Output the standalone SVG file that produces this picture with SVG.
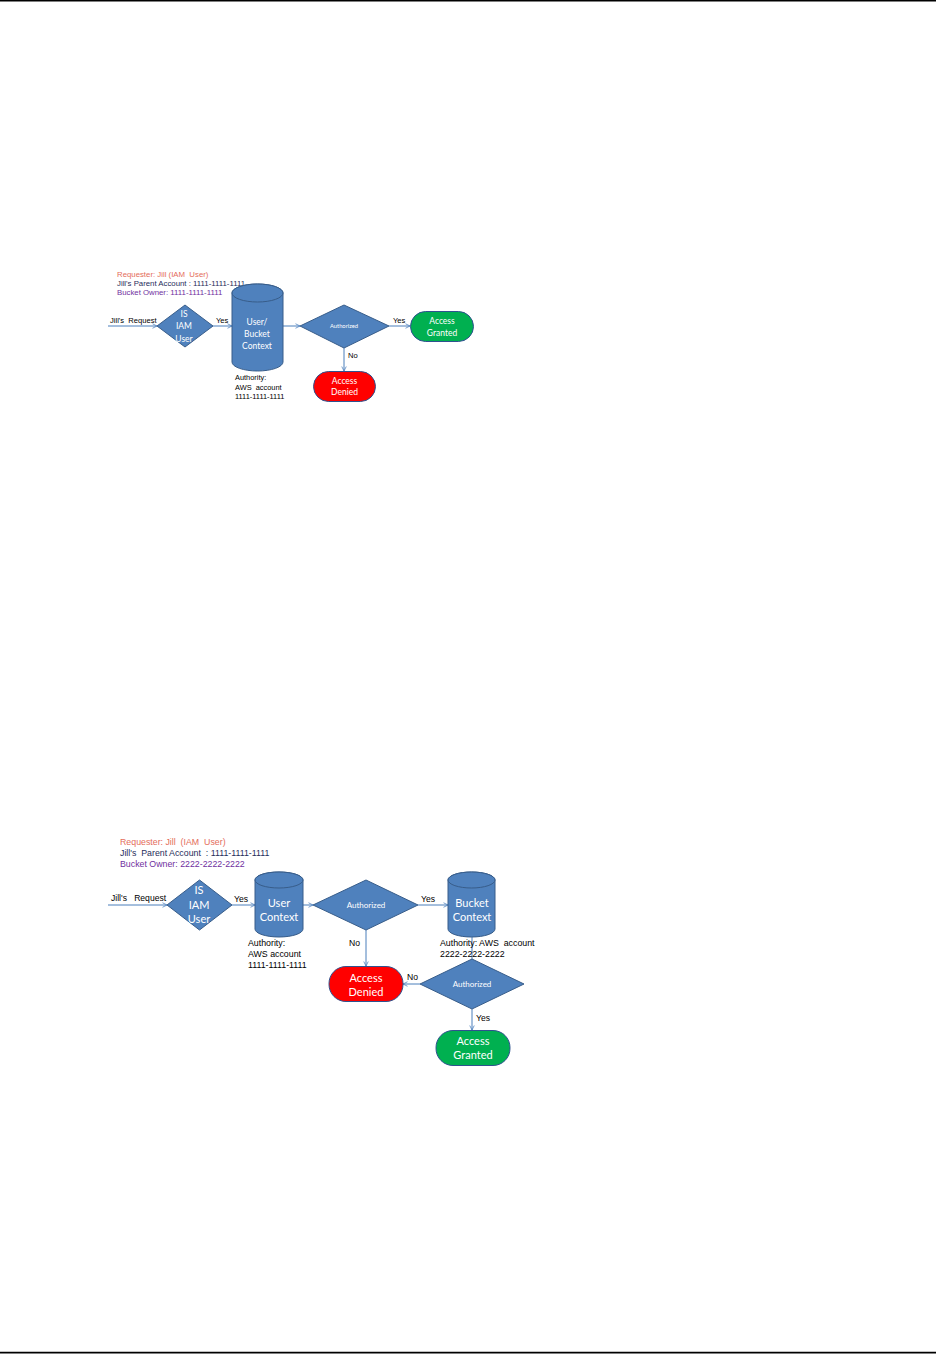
<svg xmlns="http://www.w3.org/2000/svg" width="936" height="1354" viewBox="0 0 936 1354">
<style>
.shape{fill:#4f81bd;stroke:#385d8a;stroke-width:1}
.green{fill:#00b050;stroke:#2f528f;stroke-width:1}
.red{fill:#ff0000;stroke:#2f528f;stroke-width:1}
.wl{font-family:Lato,"Open Sans",sans-serif;fill:#ffffff;text-anchor:middle}
.bl{font-family:"Liberation Sans",Arial,sans-serif;fill:#000000;white-space:pre}
.conn{stroke:#4a7ebb;stroke-width:1;fill:none;marker-end:url(#arr)}
.req{fill:#e46c5a}
.acc{fill:#1f2d5a}
.own{fill:#7030a0}
</style>
<defs>
<marker id="arr" viewBox="0 0 8 8" refX="7" refY="4" markerWidth="6" markerHeight="6" orient="auto" markerUnits="userSpaceOnUse">
<path d="M1,1 L7,4 L1,7" fill="none" stroke="#4a7ebb" stroke-width="1"/>
</marker>
</defs>
<rect x="0" y="0" width="936" height="1354" fill="#ffffff"/>
<line x1="0" y1="0.8" x2="936" y2="0.8" stroke="#000" stroke-width="1.6"/>
<line x1="0" y1="1352.6" x2="936" y2="1352.6" stroke="#000" stroke-width="1.6"/>

<!-- Diagram 1 -->
<g id="d1-info" class="bl" font-size="7.8">
<text x="117" y="277" class="req" xml:space="preserve">Requester: Jill (IAM  User)</text>
<text x="117" y="286" class="acc" xml:space="preserve">Jill's Parent Account : 1111-1111-1111</text>
<text x="117" y="295" class="own" xml:space="preserve">Bucket Owner: 1111-1111-1111</text>
</g>
<g id="d1-connectors">
<line class="conn" x1="108" y1="326" x2="157" y2="326"/>
<line class="conn" x1="213" y1="326" x2="232" y2="326"/>
<line class="conn" x1="283" y1="326" x2="300" y2="326"/>
<line class="conn" x1="389" y1="326" x2="410" y2="326"/>
<line class="conn" x1="344" y1="348" x2="344" y2="371"/>
<g class="bl" font-size="7.6">
<text x="110" y="323" xml:space="preserve">Jill's  Request</text>
<text x="216" y="323">Yes</text>
<text x="393" y="323">Yes</text>
<text x="348" y="358">No</text>
</g>
</g>
<g id="d1-isiam">
<polygon class="shape" points="185,305 213,326 185,347 157,326"/>
<g class="wl" font-size="8.5">
<text x="184" y="317">IS</text>
<text x="184" y="329">IAM</text>
<text x="184" y="342">User</text>
</g>
</g>
<g id="d1-context">
<path class="shape" d="M232,293 L232,362 A25.5,9 0 0 0 283,362 L283,293 A25.5,9 0 0 0 232,293 Z"/>
<ellipse class="shape" cx="257.5" cy="293" rx="25.5" ry="9"/>
<g class="wl" font-size="8.5">
<text x="257" y="325">User/</text>
<text x="257" y="337">Bucket</text>
<text x="257" y="349">Context</text>
</g>
<g class="bl" font-size="7.4">
<text x="235" y="380">Authority:</text>
<text x="235" y="390" xml:space="preserve">AWS  account</text>
<text x="235" y="399">1111-1111-1111</text>
</g>
</g>
<g id="d1-auth">
<polygon class="shape" points="344,305 389,326 344,348 300,326"/>
<text class="wl" x="344" y="328" font-size="5.8">Authorized</text>
</g>
<g id="d1-granted">
<rect class="green" x="410.5" y="311.5" width="63" height="30" rx="15" ry="15"/>
<g class="wl" font-size="8.5">
<text x="442" y="324">Access</text>
<text x="442" y="336">Granted</text>
</g>
</g>
<g id="d1-denied">
<rect class="red" x="313.5" y="371.5" width="62" height="30" rx="15" ry="15"/>
<g class="wl" font-size="8.5">
<text x="344.5" y="384">Access</text>
<text x="344.5" y="395">Denied</text>
</g>
</g>

<!-- Diagram 2 -->
<g id="d2-info" class="bl" font-size="8.8">
<text x="120" y="845" class="req" xml:space="preserve">Requester: Jill  (IAM  User)</text>
<text x="120" y="856" class="acc" xml:space="preserve">Jill's  Parent Account  : 1111-1111-1111</text>
<text x="120" y="867" class="own" xml:space="preserve">Bucket Owner: 2222-2222-2222</text>
</g>
<g id="d2-connectors">
<line class="conn" x1="108" y1="905" x2="167" y2="905"/>
<line class="conn" x1="232" y1="905" x2="255" y2="905"/>
<line class="conn" x1="303" y1="905" x2="313" y2="905"/>
<line class="conn" x1="418" y1="905" x2="448" y2="905"/>
<line class="conn" x1="366" y1="930" x2="366" y2="966"/>
<line stroke="#4a7ebb" stroke-width="1" x1="472" y1="937" x2="472" y2="960"/>
<line class="conn" x1="420" y1="984" x2="403" y2="984"/>
<line class="conn" x1="472" y1="1009" x2="472" y2="1030"/>
<g class="bl" font-size="8.6">
<text x="111" y="901" xml:space="preserve">Jill's   Request</text>
<text x="234" y="902">Yes</text>
<text x="421" y="902">Yes</text>
<text x="349" y="946">No</text>
<text x="407" y="980">No</text>
<text x="476" y="1021">Yes</text>
</g>
</g>
<g id="d2-isiam">
<polygon class="shape" points="199.5,880 232,905 199.5,930 167,905"/>
<g class="wl" font-size="11">
<text x="199" y="894">IS</text>
<text x="199" y="909">IAM</text>
<text x="199" y="923">User</text>
</g>
</g>
<g id="d2-usercontext">
<path class="shape" d="M255,880 L255,929 A24,8 0 0 0 303,929 L303,880 A24,8 0 0 0 255,880 Z"/>
<ellipse class="shape" cx="279" cy="880" rx="24" ry="8"/>
<g class="wl" font-size="11">
<text x="279" y="907">User</text>
<text x="279" y="921">Context</text>
</g>
<g class="bl" font-size="8.8">
<text x="248" y="946">Authority:</text>
<text x="248" y="957">AWS account</text>
<text x="248" y="968">1111-1111-1111</text>
</g>
</g>
<g id="d2-auth1">
<polygon class="shape" points="366,880 418,905 366,930 313,905"/>
<text class="wl" x="366" y="908" font-size="8">Authorized</text>
</g>
<g id="d2-bucketcontext">
<path class="shape" d="M448,880 L448,929 A23.5,8 0 0 0 495,929 L495,880 A23.5,8 0 0 0 448,880 Z"/>
<ellipse class="shape" cx="471.5" cy="880" rx="23.5" ry="8"/>
<g class="wl" font-size="11">
<text x="472" y="907">Bucket</text>
<text x="472" y="921">Context</text>
</g>
<g class="bl" font-size="8.8">
<text x="440" y="946" xml:space="preserve">Authority: AWS  account</text>
<text x="440" y="957">2222-2222-2222</text>
</g>
</g>
<g id="d2-auth2">
<polygon class="shape" points="472,959 524,984 472,1009 420,984"/>
<text class="wl" x="472" y="987" font-size="8">Authorized</text>
</g>
<g id="d2-denied">
<rect class="red" x="329" y="966.5" width="74" height="35" rx="17" ry="17"/>
<g class="wl" font-size="11">
<text x="366" y="982">Access</text>
<text x="366" y="996">Denied</text>
</g>
</g>
<g id="d2-granted">
<rect class="green" x="436" y="1030.5" width="74" height="35" rx="17" ry="17"/>
<g class="wl" font-size="11">
<text x="473" y="1045">Access</text>
<text x="473" y="1059">Granted</text>
</g>
</g>
</svg>
